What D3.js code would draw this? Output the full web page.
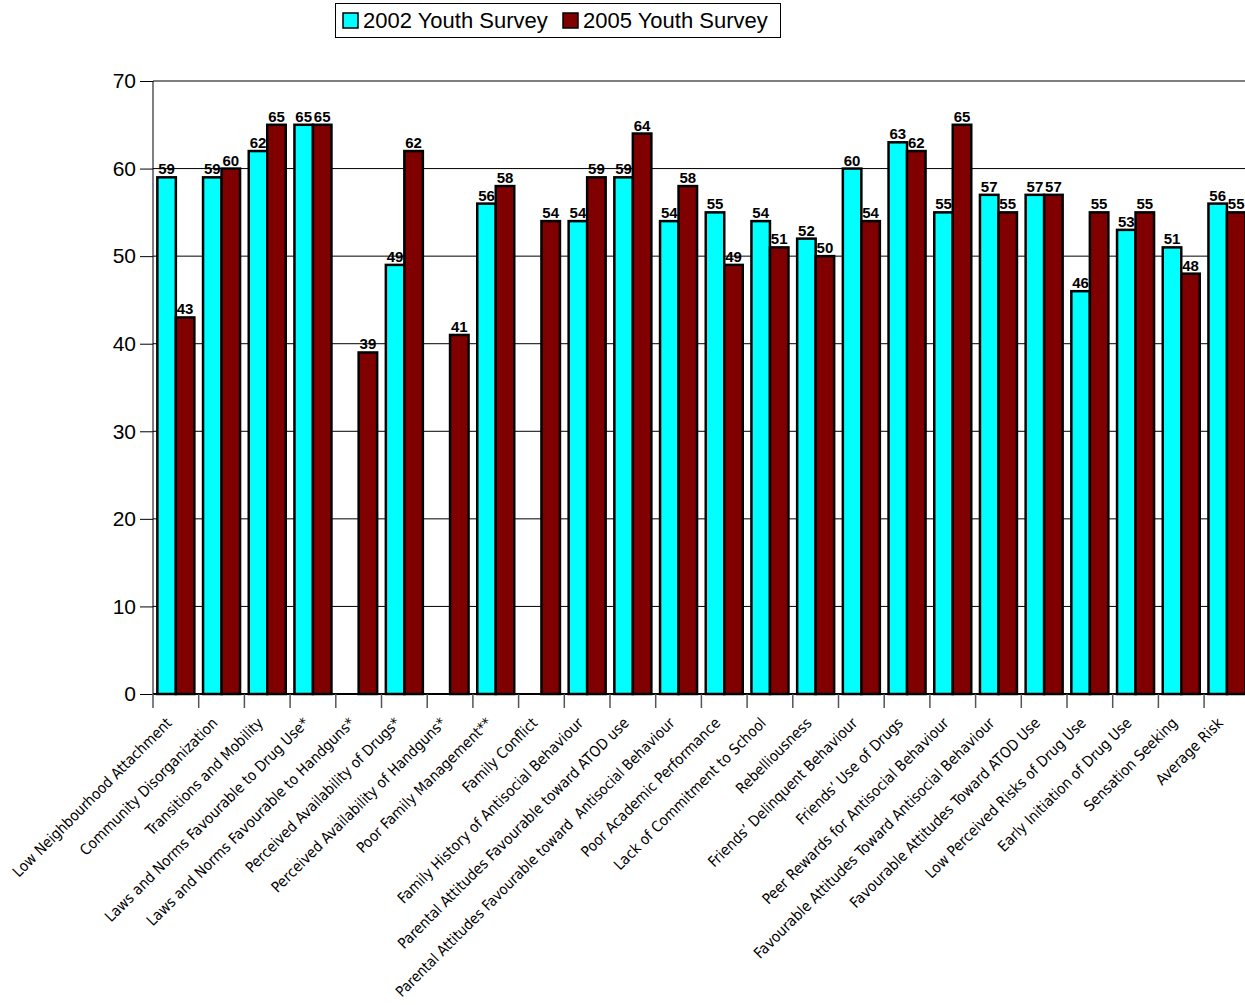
<!DOCTYPE html>
<html>
<head>
<meta charset="utf-8">
<script src="https://cdn.jsdelivr.net/npm/d3@7"></script>
<style>
  html, body { margin: 0; padding: 0; background: #fff; }
  svg { display: block; }
</style>
</head>
<body>
<svg id="chart" width="1245" height="1005"></svg>
<script>
// Risk factor scale scores by survey year
const categories = [
  "Low Neighbourhood Attachment",
  "Community Disorganization",
  "Transitions and Mobility",
  "Laws and Norms Favourable to Drug Use*",
  "Laws and Norms Favourable to Handguns*",
  "Perceived Availability of Drugs*",
  "Perceived Availability of Handguns*",
  "Poor Family Management**",
  "Family Conflict",
  "Family History of Antisocial Behaviour",
  "Parental Attitudes Favourable toward ATOD use",
  "Parental Attitudes Favourable toward  Antisocial Behaviour",
  "Poor Academic Performance",
  "Lack of Commitment to School",
  "Rebelliousness",
  "Friends\u2019 Delinquent Behaviour",
  "Friends\u2019 Use of Drugs",
  "Peer Rewards for Antisocial Behaviour",
  "Favourable Attitudes Toward Antisocial Behaviour",
  "Favourable Attitudes Toward ATOD Use",
  "Low Perceived Risks of Drug Use",
  "Early Initiation of Drug Use",
  "Sensation Seeking",
  "Average Risk"
];

const seriesNames = ["2002 Youth Survey", "2005 Youth Survey"];

// null = item not asked in that survey year
const values2002 = [59, 59, 62, 65, null, 49, null, 56, null, 54, 59, 54, 55, 54, 52, 60, 63, 55, 57, 57, 46, 53, 51, 56];
const values2005 = [43, 60, 65, 65, 39, 62, 41, 58, 54, 59, 64, 58, 49, 51, 50, 54, 62, 65, 55, 57, 55, 55, 48, 55];

const yTicks = [0, 10, 20, 30, 40, 50, 60, 70];
const seriesColors = ["#00ffff", "#800000"];

const seriesValues = [values2002, values2005];

const svg = d3.select("#chart");
const W = 1245, H = 1005;

const plotLeft = 153, plotTop = 81, plotBottom = 694;
const step = 45.7;
const plotRight = plotLeft + step * categories.length;

const x0 = d3.scaleBand().domain(categories).range([plotLeft, plotRight]).padding(0);
const x1 = d3.scaleBand().domain(seriesNames).range([0, x0.bandwidth()])
  .paddingInner(0).paddingOuter(0.235);
const y = d3.scaleLinear().domain([0, 70]).range([plotBottom, plotTop]);

// horizontal gridlines
svg.append("g")
  .selectAll("line")
  .data(yTicks.filter(d => d > 0))
  .join("line")
  .attr("x1", plotLeft).attr("x2", W)
  .attr("y1", d => y(d)).attr("y2", d => y(d))
  .attr("stroke", "#000").attr("stroke-width", 1);

// y axis
const yAxis = svg.append("g")
  .attr("transform", `translate(${plotLeft},0)`)
  .call(d3.axisLeft(y).tickValues(yTicks).tickSize(13).tickPadding(4).tickFormat(d3.format("d")));
yAxis.select(".domain").attr("stroke", "#000").attr("d", `M0,${plotTop}V${plotBottom}`);
yAxis.selectAll(".tick line").attr("stroke", "#000");
yAxis.selectAll(".tick text")
  .attr("font-family", "Liberation Sans, Arial, sans-serif")
  .attr("font-size", 21)
  .attr("fill", "#000");

// bars
const groups = svg.append("g")
  .selectAll("g")
  .data(categories)
  .join("g")
  .attr("transform", d => `translate(${x0(d)},0)`);

const barData = (cat, i) => seriesNames.map((s, k) => ({ s, k, v: seriesValues[k][i] }))
  .filter(d => d.v != null);

groups.selectAll("rect")
  .data((d, i) => barData(d, i))
  .join("rect")
  .attr("x", d => x1(d.s))
  .attr("y", d => y(d.v))
  .attr("width", x1.bandwidth())
  .attr("height", d => y(0) - y(d.v))
  .attr("fill", d => seriesColors[d.k])
  .attr("stroke", "#000")
  .attr("stroke-width", 2.5);

groups.selectAll("text")
  .data((d, i) => barData(d, i))
  .join("text")
  .attr("x", d => x1(d.s) + x1.bandwidth() / 2)
  .attr("y", d => y(d.v) - 3)
  .attr("text-anchor", "middle")
  .attr("font-family", "Liberation Sans, Arial, sans-serif")
  .attr("font-weight", "bold")
  .attr("font-size", 15)
  .attr("fill", "#000")
  .text(d => d.v);

// x axis baseline and ticks
svg.append("line")
  .attr("x1", plotLeft).attr("x2", W)
  .attr("y1", plotBottom).attr("y2", plotBottom)
  .attr("stroke", "#000").attr("stroke-width", 2);

svg.append("g")
  .selectAll("line")
  .data(categories)
  .join("line")
  .attr("x1", d => x0(d)).attr("x2", d => x0(d))
  .attr("y1", plotBottom).attr("y2", plotBottom + 14)
  .attr("stroke", "#555").attr("stroke-width", 1.5);

// category labels, rotated; the longest one is shrunk to stay inside the page
const labelAnchorY = plotBottom + 30;
svg.append("g")
  .selectAll("text")
  .data(categories)
  .join("text")
  .attr("transform", d => `translate(${x0(d) + x0.bandwidth() / 2 - 3},${labelAnchorY}) rotate(-45)`)
  .attr("text-anchor", "end")
  .attr("font-family", "DejaVu Sans Condensed, DejaVu Sans, sans-serif")
  .attr("font-size", 15)
  .attr("fill", "#000")
  .style("white-space", "pre")
  .text(d => d)
  .each(function () {
    const len = this.getComputedTextLength();
    // vertical drop of the rotated label's start below the anchor
    const maxLen = (H - 4 - labelAnchorY) * Math.SQRT2 - 4;
    if (len > maxLen) d3.select(this).attr("font-size", 15 * maxLen / len);
  });

// legend
const legend = svg.append("g");
legend.append("rect")
  .attr("x", 335.5).attr("y", 3.5).attr("width", 445).attr("height", 34)
  .attr("fill", "#fff").attr("stroke", "#000").attr("stroke-width", 1);
const legendX = [343, 563];
seriesNames.forEach((s, k) => {
  legend.append("rect")
    .attr("x", legendX[k]).attr("y", 13).attr("width", 15).attr("height", 15)
    .attr("fill", seriesColors[k]).attr("stroke", "#000").attr("stroke-width", 1.5);
  legend.append("text")
    .attr("x", legendX[k] + 20).attr("y", 28)
    .attr("font-family", "Liberation Sans, Arial, sans-serif")
    .attr("font-size", 22)
    .attr("fill", "#000")
    .text(s);
});
</script>
</body>
</html>
